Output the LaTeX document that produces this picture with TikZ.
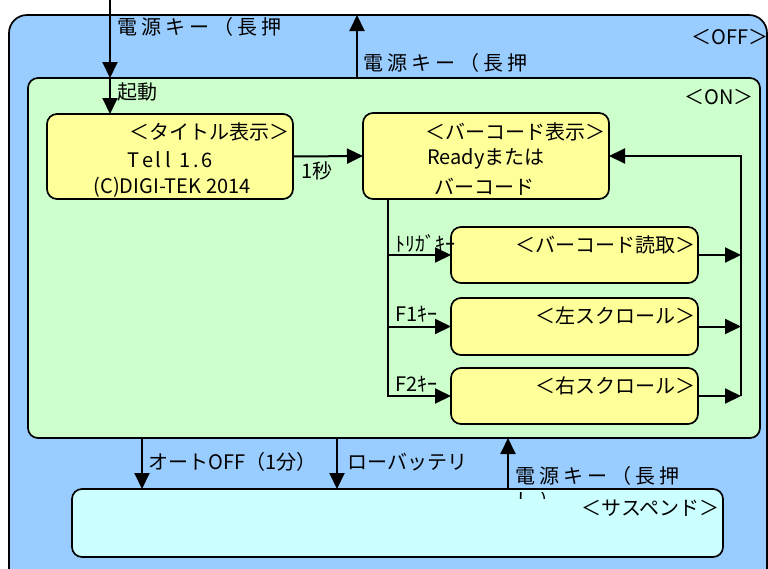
\documentclass[tikz,border=0pt]{standalone}
\usepackage{fontspec}
\setmainfont{Noto Sans CJK JP}
\usetikzlibrary{arrows.meta}
\definecolor{offblue}{HTML}{99CCFF}
\definecolor{ongreen}{HTML}{CCFFCC}
\definecolor{boxyellow}{HTML}{FFFF99}
\definecolor{suscyan}{HTML}{CCFFFF}
\tikzset{
  state/.style={draw=black, line width=1.7pt, rounded corners=10pt, inner sep=0pt, outer sep=0pt, anchor=north west},
  arr/.style={line width=2pt, -{Triangle[length=16pt,width=15pt]}},
  lbl/.style={inner sep=0pt, font=\fontsize{20pt}{24pt}\selectfont},
}
\newcommand\pkey{電\kern4pt 源\kern4pt キ\kern4pt ー\kern4pt （\kern4pt 長\kern4pt 押}
\begin{document}
\begin{tikzpicture}[x=1pt,y=-1pt]
\useasboundingbox (0,0) rectangle (768,568);
\clip (0,0) rectangle (768,568);
% states
\node[state, fill=offblue, rounded corners=18pt, minimum width=758pt, minimum height=590pt] (off) at (9,15) {};
\node[state, fill=ongreen, minimum width=732pt, minimum height=360pt] (on) at (28,78) {};
\node[state, fill=boxyellow, minimum width=246pt, minimum height=85pt] (title) at (47,114) {};
\node[state, fill=boxyellow, minimum width=246pt, minimum height=86pt] (bc) at (363,113) {};
\node[state, fill=boxyellow, minimum width=247pt, minimum height=56pt] (read) at (451,227) {};
\node[state, fill=boxyellow, minimum width=247pt, minimum height=57pt] (lscr) at (451,298) {};
\node[state, fill=boxyellow, minimum width=247pt, minimum height=56pt] (rscr) at (451,368) {};
\node[state, fill=suscyan, minimum width=651pt, minimum height=68pt] (susp) at (72,489) {};
% helper coordinates
\coordinate (pk) at (110,0);
\coordinate (up) at (357,0);
\coordinate (br) at (388,0);
\coordinate (rx) at (741,0);
\coordinate (ao) at (142,0);
\coordinate (lb) at (337,0);
\coordinate (rs) at (508,0);
% connectors
\draw[arr] (pk) -- (pk |- on.north);
\draw[arr] (pk |- on.north) -- (pk |- title.north);
\draw[arr] (up |- on.north) -- (up |- off.north);
\draw[arr] (title.east) -- (bc.west);
\draw[arr] (br |- bc.south) -- (br |- rscr.west) -- (rscr.west);
\draw[arr] (br |- read.west) -- (read.west);
\draw[arr] (br |- lscr.west) -- (lscr.west);
\draw[arr] (read.east) -- (rx |- read.east);
\draw[arr] (lscr.east) -- (rx |- lscr.east);
\draw[arr] (rscr.east) -- (rx |- rscr.east);
\draw[arr] (rx |- rscr.east) -- (rx |- bc.east) -- (bc.east);
\draw[arr] (ao |- on.south) -- (ao |- susp.north);
\draw[arr] (lb |- on.south) -- (lb |- susp.north);
\draw[arr] (rs |- susp.north) -- (rs |- on.south);
% labels
\node[lbl, anchor=west] (pk1) at (117,27) {\pkey};
\node[lbl, anchor=west] (pk2) at (363,63) {\pkey};
\node[lbl, anchor=west] (pk3) at (515,476) {\pkey};
\begin{scope}
  \clip (510,492) rectangle (570,498);
  \node[lbl, anchor=west] (pk3b) at (515,500) {し\kern4pt ）};
\end{scope}
\node[lbl, anchor=east] (offl) at (769,37) {＜OFF＞};
\node[lbl, anchor=east] (onl) at (754,97) {＜ON＞};
\node[lbl, anchor=west] (boot) at (117,92) {起動};
\node[lbl, anchor=east] (t1) at (290,132) {＜タイトル表示＞};
\node[lbl] (t2) at (170,160) {T\kern2.5pt e\kern2.5pt l\kern4pt l\kern4pt \ 1\kern2.5pt .\kern2.5pt 6};
\node[lbl] (t3) at (172,187) {(C)DIGI-TEK 2014};
\node[lbl, anchor=west] (sec) at (301,171) {1秒};
\node[lbl, anchor=east] (b1) at (606,132) {＜バーコード表示＞};
\node[lbl] (b2) at (486,159) {Readyまたは};
\node[lbl] (b3) at (484,187) {バーコード};
\node[lbl, anchor=east] (r1) at (696,245) {＜バーコード読取＞};
\node[lbl, anchor=east] (l1) at (696,316) {＜左スクロール＞};
\node[lbl, anchor=east] (s1) at (696,386) {＜右スクロール＞};
\node[lbl, anchor=west] (trg) at (395,243) {ﾄﾘｶﾞｷｰ};
\node[lbl, anchor=west] (f1) at (395,314) {F1ｷｰ};
\node[lbl, anchor=west] (f2) at (395,384) {F2ｷｰ};
\node[lbl, anchor=west] (auto) at (148,462) {オートOFF（1分）};
\node[lbl, anchor=west] (lowb) at (347,462) {ローバッテリ};
\node[lbl, anchor=east] (sus) at (720,508) {＜サスペンド＞};
\end{tikzpicture}
\end{document}
